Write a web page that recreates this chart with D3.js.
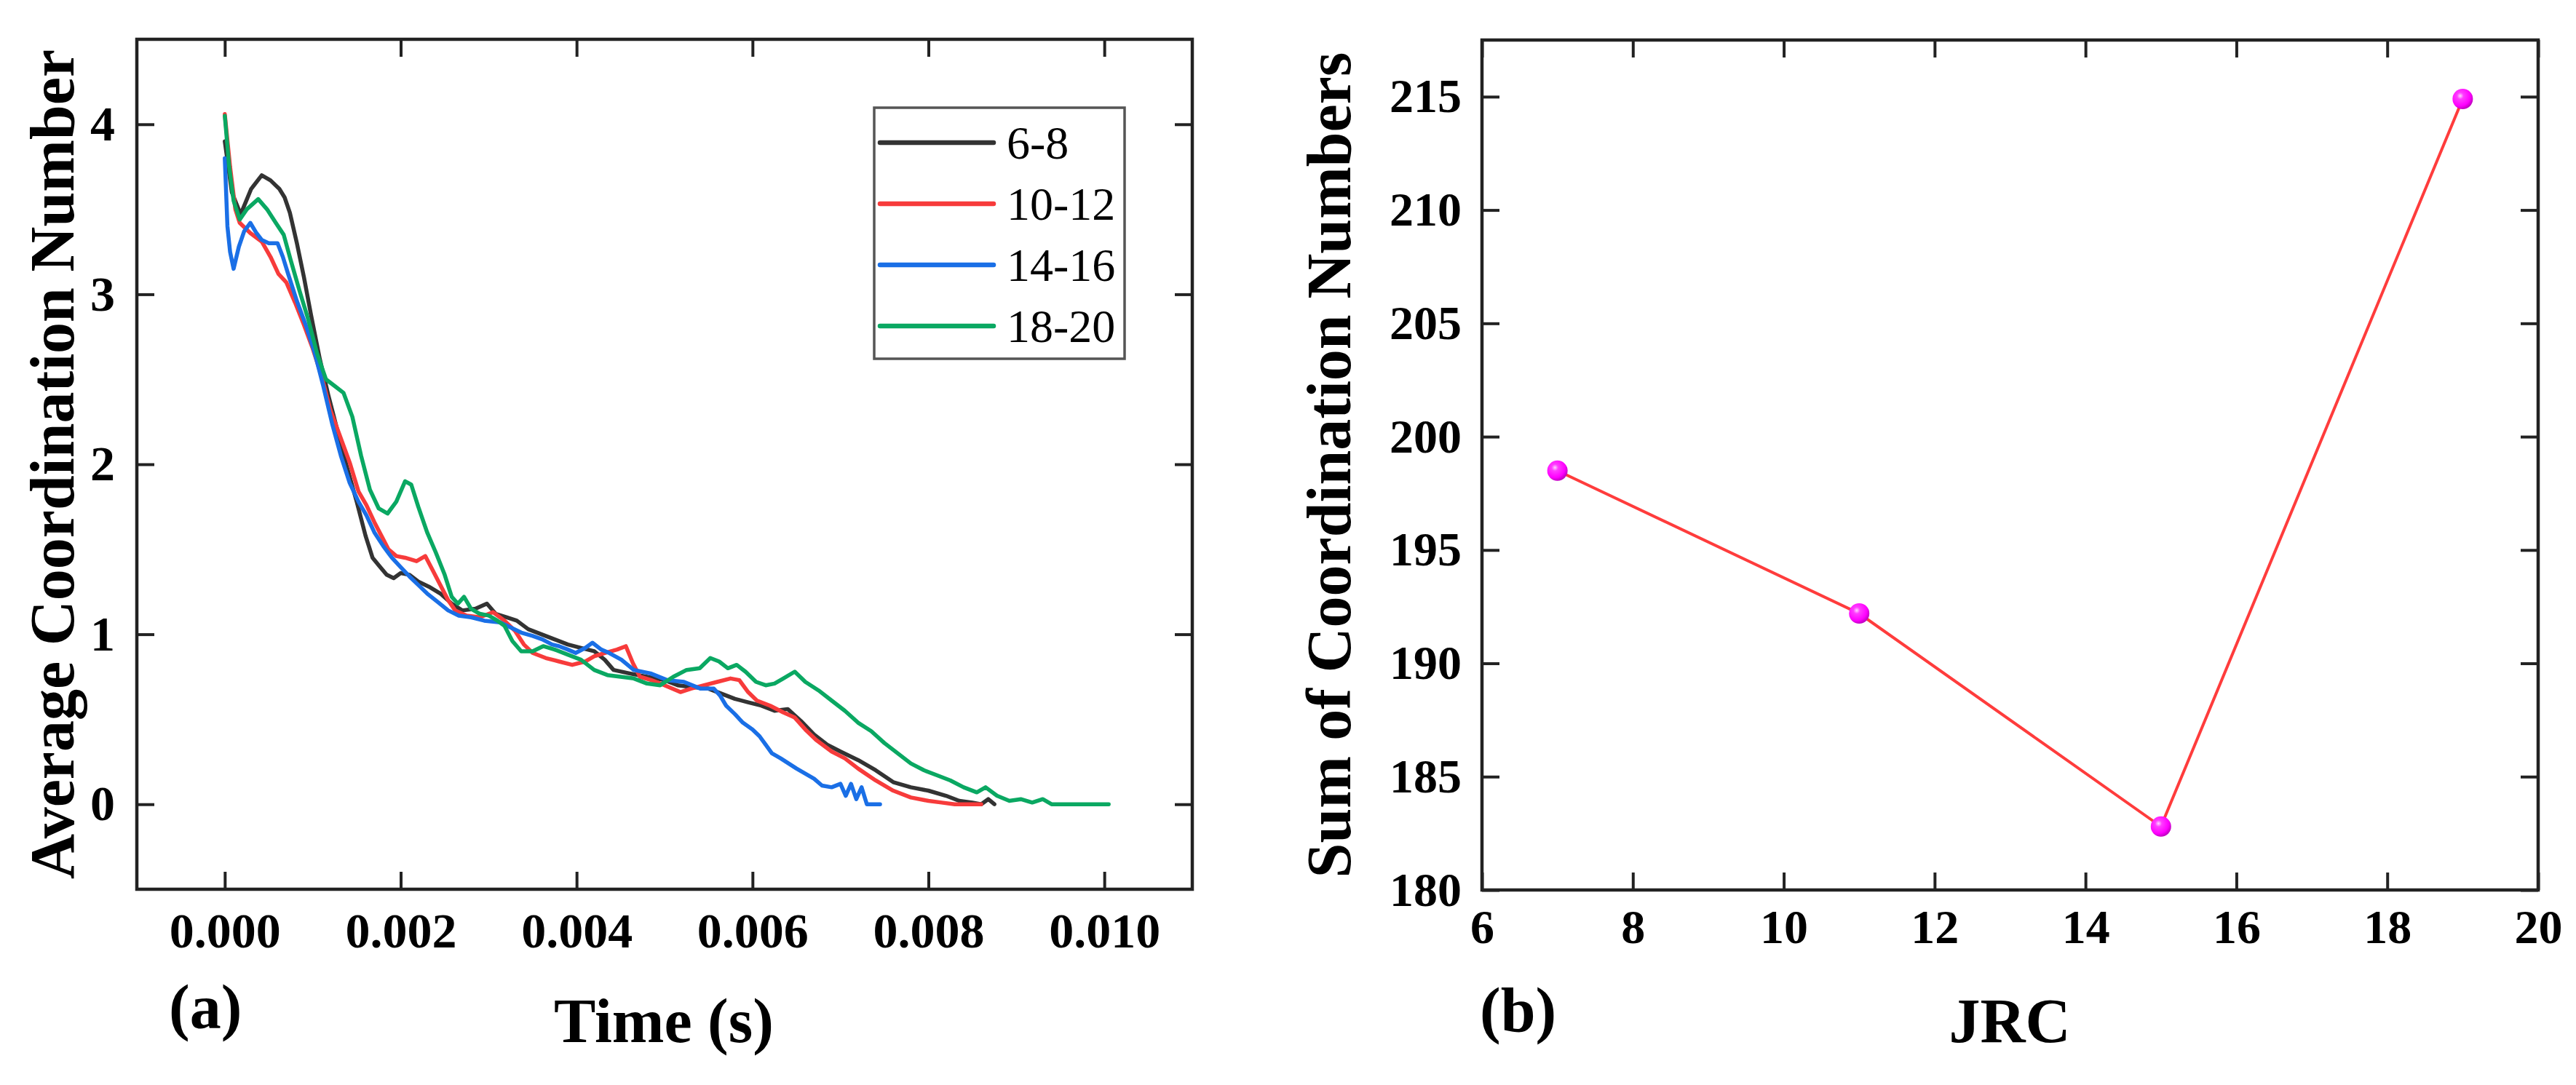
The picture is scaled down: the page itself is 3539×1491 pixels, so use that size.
<!DOCTYPE html>
<html>
<head>
<meta charset="utf-8">
<script src="https://cdn.jsdelivr.net/npm/d3@7"></script>
<style>
  body { margin: 0; background: #fff; }
</style>
</head>
<body>
<svg id="chart" width="3539" height="1491"></svg>
<script>
// panel (a): time (s) vs average coordination number, one array per JRC group
const series68 = [
  [0, 3.9], [0.00008, 3.6], [0.00018, 3.47], [0.0003, 3.62], [0.00042, 3.7], [0.00052, 3.67],
  [0.00062, 3.62], [0.00068, 3.57], [0.00074, 3.48], [0.00082, 3.3], [0.0009, 3.1], [0.00098, 2.88],
  [0.00108, 2.62], [0.00118, 2.4], [0.00128, 2.2], [0.00138, 2.0], [0.0015, 1.78], [0.0016, 1.58],
  [0.00168, 1.45], [0.00176, 1.4], [0.00184, 1.35], [0.00192, 1.33], [0.002, 1.36], [0.0021, 1.35],
  [0.0022, 1.31], [0.00232, 1.28], [0.00245, 1.24], [0.00258, 1.18], [0.0027, 1.14], [0.00285, 1.15],
  [0.00298, 1.18], [0.00308, 1.12], [0.0032, 1.1], [0.00332, 1.08], [0.00345, 1.03], [0.0036, 1.0],
  [0.00375, 0.97], [0.0039, 0.94], [0.00405, 0.92], [0.0042, 0.9], [0.00432, 0.85], [0.00442, 0.79],
  [0.0046, 0.77], [0.0048, 0.75], [0.005, 0.73], [0.00515, 0.7], [0.0053, 0.69], [0.0055, 0.68],
  [0.00565, 0.65], [0.0058, 0.62], [0.00595, 0.6], [0.0061, 0.58], [0.00625, 0.55], [0.0064, 0.56],
  [0.00655, 0.49], [0.0067, 0.41], [0.00685, 0.35], [0.007, 0.31], [0.0072, 0.26], [0.0074, 0.2],
  [0.0076, 0.13], [0.0078, 0.1], [0.008, 0.08], [0.0082, 0.05], [0.00835, 0.02], [0.0085, 0.01],
  [0.0086, 0], [0.00868, 0.03], [0.00875, 0]
];
const series1012 = [
  [0, 4.06], [0.00006, 3.75], [0.00012, 3.5], [0.00017, 3.42], [0.00029, 3.36], [0.00042, 3.31],
  [0.00052, 3.22], [0.00061, 3.12], [0.0007, 3.07], [0.0008, 2.95], [0.0009, 2.82], [0.001, 2.68],
  [0.0011, 2.52], [0.0012, 2.32], [0.0013, 2.18], [0.00142, 2.01], [0.00152, 1.84], [0.00161, 1.76],
  [0.0017, 1.66], [0.00178, 1.58], [0.00186, 1.5], [0.00195, 1.46], [0.00205, 1.45], [0.00218, 1.43],
  [0.00228, 1.46], [0.00236, 1.38], [0.00244, 1.3], [0.00254, 1.2], [0.00262, 1.14], [0.00275, 1.11],
  [0.0029, 1.1], [0.00305, 1.13], [0.00318, 1.08], [0.0033, 1.02], [0.0034, 0.94], [0.0035, 0.89],
  [0.00365, 0.86], [0.0038, 0.84], [0.00395, 0.82], [0.0041, 0.84], [0.0042, 0.87], [0.00432, 0.89],
  [0.00446, 0.91], [0.00456, 0.93], [0.00464, 0.83], [0.00472, 0.75], [0.00485, 0.73], [0.005, 0.7],
  [0.00518, 0.66], [0.0053, 0.68], [0.00545, 0.7], [0.0056, 0.72], [0.00575, 0.74], [0.00585, 0.73],
  [0.00595, 0.66], [0.00605, 0.61], [0.0062, 0.58], [0.00635, 0.54], [0.00648, 0.51], [0.0066, 0.44],
  [0.00672, 0.38], [0.0069, 0.31], [0.00705, 0.27], [0.0072, 0.21], [0.0074, 0.14], [0.0076, 0.08],
  [0.0078, 0.04], [0.008, 0.02], [0.00815, 0.01], [0.0083, 0], [0.0086, 0]
];
const series1416 = [
  [0, 3.8], [0.00003, 3.4], [0.00006, 3.25], [0.0001, 3.15], [0.00016, 3.28], [0.00022, 3.37],
  [0.00029, 3.42], [0.00036, 3.36], [0.00042, 3.32], [0.0005, 3.3], [0.0006, 3.3], [0.00066, 3.22],
  [0.00072, 3.12], [0.00082, 2.96], [0.00092, 2.82], [0.00102, 2.66], [0.00112, 2.46], [0.00122, 2.24],
  [0.00132, 2.05], [0.00142, 1.89], [0.00152, 1.78], [0.00161, 1.7], [0.0017, 1.6], [0.0018, 1.52],
  [0.0019, 1.45], [0.00199, 1.4], [0.0021, 1.34], [0.0022, 1.29], [0.0023, 1.24], [0.00242, 1.19],
  [0.00254, 1.14], [0.00266, 1.11], [0.0028, 1.1], [0.00295, 1.08], [0.00313, 1.07], [0.00325, 1.04],
  [0.00337, 1.01], [0.0035, 0.99], [0.00361, 0.97], [0.00372, 0.94], [0.0038, 0.93], [0.0039, 0.91],
  [0.00399, 0.89], [0.0041, 0.92], [0.00418, 0.95], [0.00428, 0.91], [0.00437, 0.89], [0.00451, 0.85],
  [0.00465, 0.79], [0.00484, 0.77], [0.00503, 0.73], [0.00522, 0.72], [0.00541, 0.68], [0.00556, 0.68],
  [0.00563, 0.64], [0.0057, 0.58], [0.0058, 0.53], [0.00589, 0.48], [0.006, 0.44], [0.00608, 0.4],
  [0.00615, 0.35], [0.00622, 0.3], [0.00632, 0.27], [0.00641, 0.24], [0.0065, 0.21], [0.0066, 0.18],
  [0.0067, 0.15], [0.00679, 0.11], [0.0069, 0.1], [0.007, 0.12], [0.00706, 0.05], [0.00712, 0.12],
  [0.00718, 0.03], [0.00724, 0.1], [0.0073, 0], [0.00745, 0]
];
const series1820 = [
  [0, 4.05], [0.00005, 3.75], [0.0001, 3.55], [0.00017, 3.44], [0.00025, 3.5], [0.00038, 3.56],
  [0.00048, 3.5], [0.00058, 3.42], [0.00067, 3.35], [0.00075, 3.2], [0.00085, 3.02], [0.00095, 2.85],
  [0.00105, 2.65], [0.00115, 2.5], [0.00125, 2.46], [0.00135, 2.42], [0.00145, 2.28], [0.00155, 2.05],
  [0.00165, 1.85], [0.00175, 1.74], [0.00185, 1.71], [0.00195, 1.78], [0.00205, 1.9], [0.00212, 1.88],
  [0.0022, 1.75], [0.0023, 1.6], [0.0024, 1.48], [0.0025, 1.35], [0.00258, 1.22], [0.00265, 1.18],
  [0.00272, 1.22], [0.0028, 1.15], [0.0029, 1.12], [0.003, 1.11], [0.0031, 1.08], [0.00318, 1.05],
  [0.00327, 0.96], [0.00337, 0.9], [0.0035, 0.9], [0.00362, 0.93], [0.00375, 0.91], [0.0039, 0.88],
  [0.00405, 0.85], [0.0042, 0.79], [0.00435, 0.76], [0.0045, 0.75], [0.00465, 0.74], [0.0048, 0.71],
  [0.00495, 0.7], [0.0051, 0.75], [0.00525, 0.79], [0.0054, 0.8], [0.00552, 0.86], [0.00562, 0.84],
  [0.00572, 0.8], [0.00582, 0.82], [0.00592, 0.78], [0.00604, 0.72], [0.00615, 0.7], [0.00625, 0.71],
  [0.00635, 0.74], [0.00648, 0.78], [0.0066, 0.72], [0.00675, 0.67], [0.0069, 0.61], [0.00705, 0.55],
  [0.0072, 0.48], [0.00735, 0.43], [0.0075, 0.36], [0.00765, 0.3], [0.0078, 0.24], [0.00795, 0.2],
  [0.0081, 0.17], [0.00825, 0.14], [0.0084, 0.1], [0.00855, 0.07], [0.00865, 0.1], [0.00878, 0.05],
  [0.00892, 0.02], [0.00905, 0.03], [0.00918, 0.01], [0.0093, 0.03], [0.0094, 0], [0.01005, 0]
];
const seriesNames = ['6-8', '10-12', '14-16', '18-20'];
const seriesColors = ['#333333', '#f73b3b', '#1a6fe6', '#0aa862'];
const timeTicks = [0, 0.002, 0.004, 0.006, 0.008, 0.01];
const avgTicks = [0, 1, 2, 3, 4];

// panel (b): JRC vs sum of coordination numbers
const jrc = [7, 11, 15, 19];
const sumCN = [198.5, 192.2, 182.8, 214.9];
const jrcTicks = [6, 8, 10, 12, 14, 16, 18, 20];
const sumTicks = [180, 185, 190, 195, 200, 205, 210, 215];

const FONT = '"Liberation Serif", "Times New Roman", Times, serif';
const svg = d3.select('#chart');
const TICK = 24;

function frameAxes(g, x, y, w, h, xTicks, yTicks, xFmt, opts) {
  const gx = g.append('g').attr('transform', `translate(0,${h})`)
    .call(d3.axisBottom(x).tickValues(xTicks).tickSize(-TICK).tickPadding(opts.xPad).tickFormat(xFmt));
  const gy = g.append('g')
    .call(d3.axisLeft(y).tickValues(yTicks).tickSize(-TICK).tickPadding(opts.yPad).tickFormat(d3.format('d')));
  const gt = g.append('g')
    .call(d3.axisTop(x).tickValues(xTicks).tickSize(-TICK).tickFormat(''));
  const gr = g.append('g').attr('transform', `translate(${w},0)`)
    .call(d3.axisRight(y).tickValues(yTicks).tickSize(-TICK).tickFormat(''));

  [gx, gy, gt, gr].forEach(a => {
    a.attr('font-family', FONT);
    a.select('.domain').remove();
    a.selectAll('line').attr('stroke', '#222').attr('stroke-width', 4);
    a.selectAll('text')
      .attr('fill', '#000')
      .style('font-family', FONT)
      .style('font-size', opts.tickFont + 'px')
      .style('font-weight', 'bold');
  });

  g.append('rect')
    .attr('width', w).attr('height', h)
    .attr('fill', 'none').attr('stroke', '#222').attr('stroke-width', 4.5);
}

function label(g, txt, size) {
  return g.append('text')
    .style('font-family', FONT)
    .style('font-size', size + 'px')
    .style('font-weight', 'bold')
    .text(txt);
}

// ---------- panel (a)
{
  const m = { left: 188, top: 54 };
  const w = 1638 - 188, h = 1222 - 54;
  const g = svg.append('g').attr('transform', `translate(${m.left},${m.top})`);

  const x = d3.scaleLinear().domain([-0.001, 0.011]).range([0, w]);
  const y = d3.scaleLinear().domain([-0.5, 4.5]).range([h, 0]);

  const line = d3.line().x(d => x(d[0])).y(d => y(d[1]));
  const allSeries = [series68, series1012, series1416, series1820];

  g.selectAll('path.series')
    .data(allSeries)
    .join('path')
    .attr('class', 'series')
    .attr('d', line)
    .attr('fill', 'none')
    .attr('stroke', (d, i) => seriesColors[i])
    .attr('stroke-width', 5.5)
    .attr('stroke-linejoin', 'round')
    .attr('stroke-linecap', 'round');

  frameAxes(g, x, y, w, h, timeTicks, avgTicks, d3.format('.3f'), { xPad: 32, yPad: 30, tickFont: 68 });

  // legend
  const leg = g.append('g').attr('transform', `translate(${1201 - m.left},${148 - m.top})`);
  leg.append('rect')
    .attr('width', 344).attr('height', 345)
    .attr('fill', '#fff').attr('stroke', '#555').attr('stroke-width', 3.5);
  const rows = leg.selectAll('g.row')
    .data(seriesNames)
    .join('g')
    .attr('class', 'row')
    .attr('transform', (d, i) => `translate(0,${48 + i * 84})`);
  rows.append('line')
    .attr('x1', 8).attr('x2', 164)
    .attr('stroke', (d, i) => seriesColors[i])
    .attr('stroke-width', 6.5)
    .attr('stroke-linecap', 'round');
  rows.append('text')
    .attr('x', 182).attr('y', 22)
    .style('font-family', FONT)
    .style('font-size', '64px')
    .text(d => d);

  label(g, 'Average Coordination Number', 86)
    .attr('transform', `translate(${101 - m.left},${(54 + 1222) / 2 - m.top}) rotate(-90)`)
    .attr('text-anchor', 'middle');

  label(g, 'Time (s)', 86)
    .attr('x', 912 - m.left).attr('y', 1432 - m.top)
    .attr('text-anchor', 'middle');

  label(g, '(a)', 86)
    .attr('x', 232 - m.left).attr('y', 1413 - m.top);
}

// ---------- panel (b)
{
  const m = { left: 2036, top: 55 };
  const w = 3487 - 2036, h = 1223 - 55;
  const g = svg.append('g').attr('transform', `translate(${m.left},${m.top})`);

  const x = d3.scaleLinear().domain([6, 20]).range([0, w]);
  const y = d3.scaleLinear().domain([180, 217.5]).range([h, 0]);

  const defs = svg.append('defs');
  const grad = defs.append('radialGradient')
    .attr('id', 'ball').attr('cx', '38%').attr('cy', '35%').attr('r', '65%');
  grad.append('stop').attr('offset', '0%').attr('stop-color', '#ffd6ff');
  grad.append('stop').attr('offset', '25%').attr('stop-color', '#ff3dff');
  grad.append('stop').attr('offset', '75%').attr('stop-color', '#ff00ff');
  grad.append('stop').attr('offset', '100%').attr('stop-color', '#c400c4');

  const pts = jrc.map((d, i) => [d, sumCN[i]]);

  frameAxes(g, x, y, w, h, jrcTicks, sumTicks, d3.format('d'), { xPad: 26, yPad: 28, tickFont: 66 });

  g.append('path')
    .datum(pts)
    .attr('d', d3.line().x(d => x(d[0])).y(d => y(d[1])))
    .attr('fill', 'none')
    .attr('stroke', '#ff3c3c')
    .attr('stroke-width', 4);

  g.selectAll('circle.pt')
    .data(pts)
    .join('circle')
    .attr('class', 'pt')
    .attr('cx', d => x(d[0]))
    .attr('cy', d => y(d[1]))
    .attr('r', 14)
    .attr('fill', 'url(#ball)');

  label(g, 'Sum of Coordination Numbers', 86)
    .attr('transform', `translate(${1855 - m.left},${(55 + 1223) / 2 - m.top}) rotate(-90)`)
    .attr('text-anchor', 'middle');

  label(g, 'JRC', 86)
    .attr('x', 2761 - m.left).attr('y', 1432 - m.top)
    .attr('text-anchor', 'middle');

  label(g, '(b)', 86)
    .attr('x', 2033 - m.left).attr('y', 1417 - m.top);
}
</script>
</body>
</html>
